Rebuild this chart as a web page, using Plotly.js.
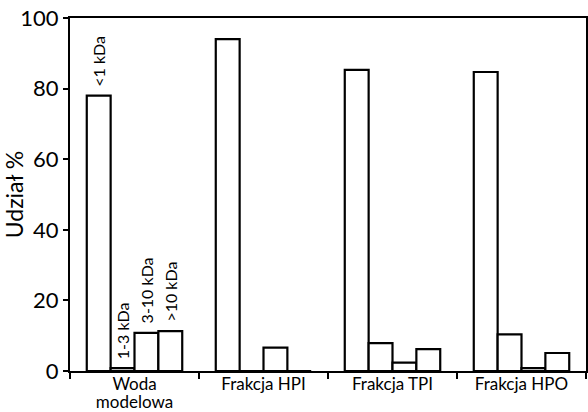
<!DOCTYPE html>
<html>
<head>
<meta charset="utf-8">
<script src="https://cdn.plot.ly/plotly-3.0.1.min.js"></script>
<style>html,body{margin:0;padding:0;background:#fff;}#chart{width:588px;height:412px;}</style>
</head>
<body>
<div id="chart"></div>
<script>
const categories = ['Woda<br>modelowa', 'Frakcja HPI', 'Frakcja TPI', 'Frakcja HPO'];
const seriesNames = ['<1 kDa', '1-3 kDa', '3-10 kDa', '>10 kDa'];
const lt1 = [78, 94, 85.3, 84.7];
const from1to3 = [0.8, 0, 7.9, 10.4];
const from3to10 = [10.8, 6.6, 2.4, 0.8];
const gt10 = [11.3, 0, 6.2, 5.1];
const yTicks = [0, 20, 40, 60, 80, 100];

const seriesValues = [lt1, from1to3, from3to10, gt10];
const FONT = 'Lato, Open Sans, sans-serif';

// tick labels: larger glyphs with the tight line spacing of the original
const tickText = categories.map(c => c.split('<br>')
  .map(line => '<span style="font-size:17px">' + line + '</span>').join('<br>'));

const traces = seriesValues.map((vals, i) => ({
  type: 'bar',
  name: seriesNames[i],
  x: categories,
  y: vals,
  marker: {color: '#ffffff', line: {color: '#000000', width: 2.2}},
  hoverinfo: 'x+y+name'
}));

// series labels above the first group's bars
const annotations = seriesValues.map((vals, i) => ({
  xref: 'x', yref: 'y',
  x: categories[0], y: vals[0],
  xshift: (i - 1.5) * 24, yshift: 7,
  text: seriesNames[i],
  textangle: -90,
  showarrow: false,
  xanchor: 'center', yanchor: 'bottom',
  font: {family: FONT, size: 16, color: '#000'}
}));

const layout = {
  width: 588,
  height: 412,
  margin: {l: 70, r: 2, t: 18, b: 41},
  paper_bgcolor: '#ffffff',
  plot_bgcolor: '#ffffff',
  showlegend: false,
  barmode: 'group',
  bargap: 0.26,
  bargroupgap: 0,
  font: {family: FONT, color: '#000'},
  annotations: annotations,
  xaxis: {
    type: 'category',
    tickmode: 'array',
    tickvals: categories,
    ticktext: tickText,
    showline: true,
    linecolor: '#000',
    linewidth: 2,
    mirror: true,
    ticks: 'outside',
    tickson: 'boundaries',
    ticklen: 6,
    tickwidth: 1.5,
    tickcolor: '#000',
    tickfont: {family: FONT, size: 14, color: '#000'},
    showgrid: false,
    zeroline: false
  },
  yaxis: {
    range: [0, 100],
    tickvals: yTicks,
    ticktext: yTicks.map(String),
    showline: true,
    linecolor: '#000',
    linewidth: 2,
    mirror: true,
    ticks: 'outside',
    ticklen: 5,
    tickwidth: 2,
    tickcolor: '#000',
    tickfont: {family: FONT, size: 22, color: '#000'},
    showgrid: false,
    zeroline: false,
    title: {text: 'Udział %', font: {family: FONT, size: 23, color: '#000'}, standoff: 4}
  }
};

Plotly.newPlot('chart', traces, layout, {displayModeBar: false, staticPlot: true});
</script>
</body>
</html>
